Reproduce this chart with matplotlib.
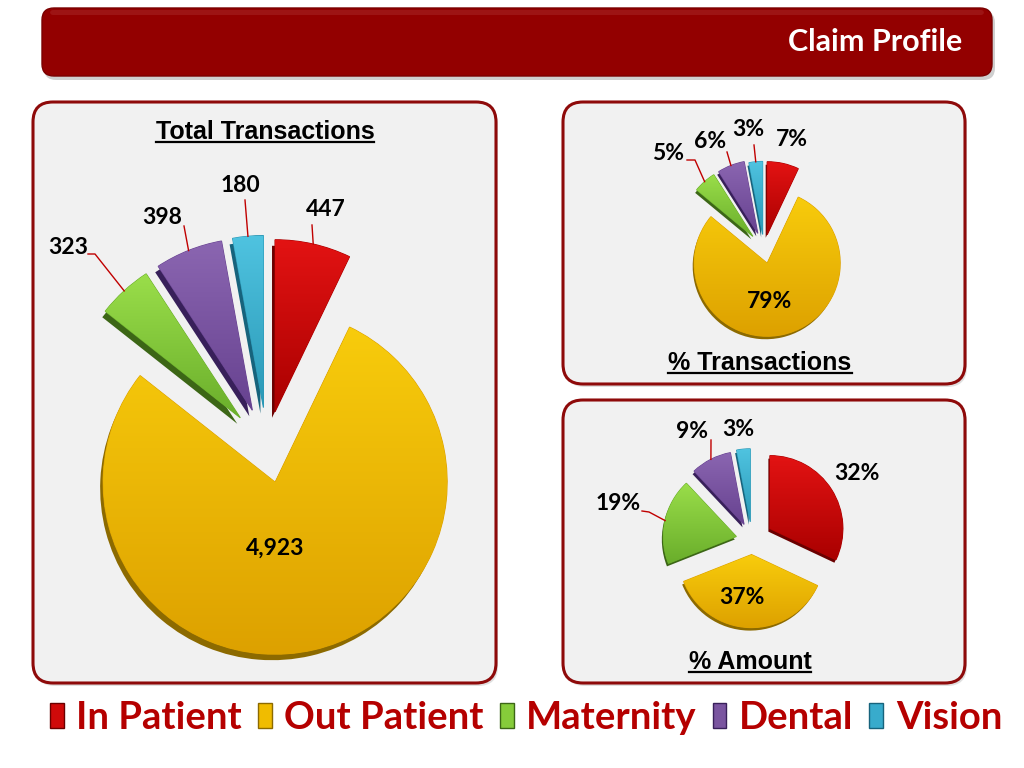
import matplotlib
matplotlib.use("Agg")
import matplotlib.pyplot as plt
import numpy as np
from matplotlib.patches import FancyBboxPatch, Patch
from matplotlib.colors import LinearSegmentedColormap
from matplotlib.font_manager import FontProperties

# ---------------- data ----------------
categories = ["In Patient", "Out Patient", "Maternity", "Dental", "Vision"]
total_transactions = [447, 4923, 323, 398, 180]
pct_transactions = [7, 79, 5, 6, 3]
pct_amount = [32, 37, 19, 9, 3]
panel_titles = ["Total Transactions", "% Transactions", "% Amount"]
header_title = "Claim Profile"

# ---------------- styles ----------------
top_colors = ["#E31313", "#F8CC0C", "#9ADE4A", "#8B66B1", "#4FC3E0"]
bottom_colors = ["#A90000", "#DDA100", "#6AAE2B", "#674290", "#2A98B6"]
side_colors = ["#6A0000", "#8C6A00", "#3C6616", "#38205A", "#17637C"]
legend_colors = ["#D00A0A", "#F0BC00", "#86CC3A", "#7A55A0", "#38ABCC"]
DARK_RED = "#8E0A0A"
LABEL_FONT = FontProperties(family="Lato", weight="bold", size=16.5)

W, H = 1024, 768
fig = plt.figure(figsize=(W / 100, H / 100), dpi=100)
ax = fig.add_axes([0, 0, 1, 1])
ax.set_xlim(0, W)
ax.set_ylim(0, H)
ax.axis("off")


def Y(y):
    return H - y


def rbox(x0, y0, x1, y1, fc, ec, lw, rs, z, alpha=1.0):
    p = FancyBboxPatch((x0, Y(y1)), x1 - x0, y1 - y0,
                       boxstyle=f"round,pad=0,rounding_size={rs}",
                       fc=fc, ec=ec, lw=lw, zorder=z, alpha=alpha)
    ax.add_patch(p)
    return p


# header bar
rbox(44, 11, 995, 80, "#777777", "none", 0, 12, 0.5, alpha=0.35)
rbox(42, 8, 992, 76, "#930000", "#7A0000", 1.0, 12, 1)
rbox(50, 10, 984, 15, "#B23A3A", "none", 0, 3, 1.1, alpha=0.35)
ax.text(962, Y(42), header_title, ha="right", va="center", color="white",
        family="Lato", weight="bold", size=22, zorder=2)

# panels
panels = [(33, 102, 496, 683), (563, 102, 965, 384), (563, 400, 965, 683)]
for (x0, y0, x1, y1) in panels:
    rbox(x0 + 2, y0 + 3, x1 + 2, y1 + 3, "#999999", "none", 0, 20, 0.5, alpha=0.3)
    rbox(x0, y0, x1, y1, "#F1F1F1", DARK_RED, 2.2, 20, 1)

# pies
pies = [
    dict(values=total_transactions, fmt="{:,}", center=(267, 447), r=172,
         explode=[0.21, 0.21, 0.23, 0.23, 0.23], depth=(-3, 6),
         labels=[(326, 210), (275, 548), (68, 247), (162, 217), (240, 185)],
         leaders=[[(312, 225)], None, [(88, 254), (95, 254)], [(184, 226)], [(245, 200)]]),
    dict(values=pct_transactions, fmt="{}%", center=(764, 249), r=73,
         explode=[0.2, 0.2, 0.23, 0.23, 0.2], depth=(-1.5, 3),
         labels=[(792, 139), (770, 301), (668, 154), (710, 142), (748, 129)],
         leaders=[None, None, [(687, 160), (695, 160)], [(727, 152)], [(754, 145)]]),
    dict(values=pct_amount, fmt="{}%", center=(752, 540), r=73,
         explode=[0.29, 0.2, 0.22, 0.24, 0.25], depth=(-1.5, 3),
         labels=[(857, 473), (742, 598), (618, 504), (692, 432), (738, 429)],
         leaders=[None, None, [(642, 511), (649, 512)], [(711, 440)], None]),
]

grad = np.linspace(0, 1, 256).reshape(-1, 1)
for spec in pies:
    cx, cy = spec["center"][0], Y(spec["center"][1])
    r = spec["r"]
    expl = [e * r for e in spec["explode"]]
    dx, dy = spec["depth"]
    ax.pie(spec["values"], explode=expl, startangle=90, counterclock=False,
           colors=side_colors, center=(cx + dx, cy - dy), radius=r, frame=True,
           wedgeprops=dict(linewidth=0, zorder=2))
    wedges, _ = ax.pie(spec["values"], explode=expl, startangle=90, counterclock=False,
                       colors=top_colors, center=(cx, cy), radius=r, frame=True,
                       wedgeprops=dict(linewidth=0.8, zorder=3))
    for i, w in enumerate(wedges):
        w.set_edgecolor(bottom_colors[i])
        ext = w.get_path().get_extents()
        cmap = LinearSegmentedColormap.from_list(f"g{i}", [bottom_colors[i], top_colors[i]])
        im = ax.imshow(grad, cmap=cmap, extent=[ext.x0, ext.x1, ext.y0, ext.y1],
                       origin="lower", aspect="auto", zorder=3.1, interpolation="bilinear")
        im.set_clip_path(w)
        # label
        lx, ly = spec["labels"][i]
        ax.text(lx, Y(ly), spec["fmt"].format(spec["values"][i]), ha="center", va="center",
                fontproperties=LABEL_FONT, color="black", zorder=6)
        # leader line to wedge outer mid point
        if spec["leaders"][i]:
            tm = np.deg2rad((w.theta1 + w.theta2) / 2)
            ax_x = w.center[0] + w.r * np.cos(tm)
            ax_y = w.center[1] + w.r * np.sin(tm)
            pts = [(px, Y(py)) for px, py in spec["leaders"][i]] + [(ax_x, ax_y)]
            xs, ys = zip(*pts)
            ax.plot(xs, ys, color="#C00000", lw=1.0, zorder=5)

# titles with underline
title_pos = [(265, 132), (760, 363), (750, 662)]
title_texts = []
for t, (x, y) in zip(panel_titles, title_pos):
    title_texts.append(ax.text(x, Y(y), t, ha="center", va="center", color="black",
                               family="Liberation Sans", weight="bold", size=18, zorder=6))

# legend
handles = [Patch(facecolor=c, edgecolor=s, linewidth=1.0) for c, s in zip(legend_colors, side_colors)]
fig.legend(handles, categories, loc="center", bbox_to_anchor=(526 / W, 1 - 718 / H), ncol=5,
           frameon=False, prop=FontProperties(family="Lato", weight="bold", size=27.5),
           labelcolor="#B50000", handlelength=0.36, handleheight=0.62, handletextpad=0.33,
           columnspacing=0.42, borderaxespad=0)

ax.set_xlim(0, W)
ax.set_ylim(0, H)
ax.set_aspect("auto")

fig.canvas.draw()
renderer = fig.canvas.get_renderer()
for txt in title_texts:
    bb = txt.get_window_extent(renderer)
    ax.plot([bb.x0, bb.x1], [bb.y0 + 2, bb.y0 + 2], color="black", lw=1.6, zorder=6)

fig.savefig("out.png", dpi=100, facecolor="white")
